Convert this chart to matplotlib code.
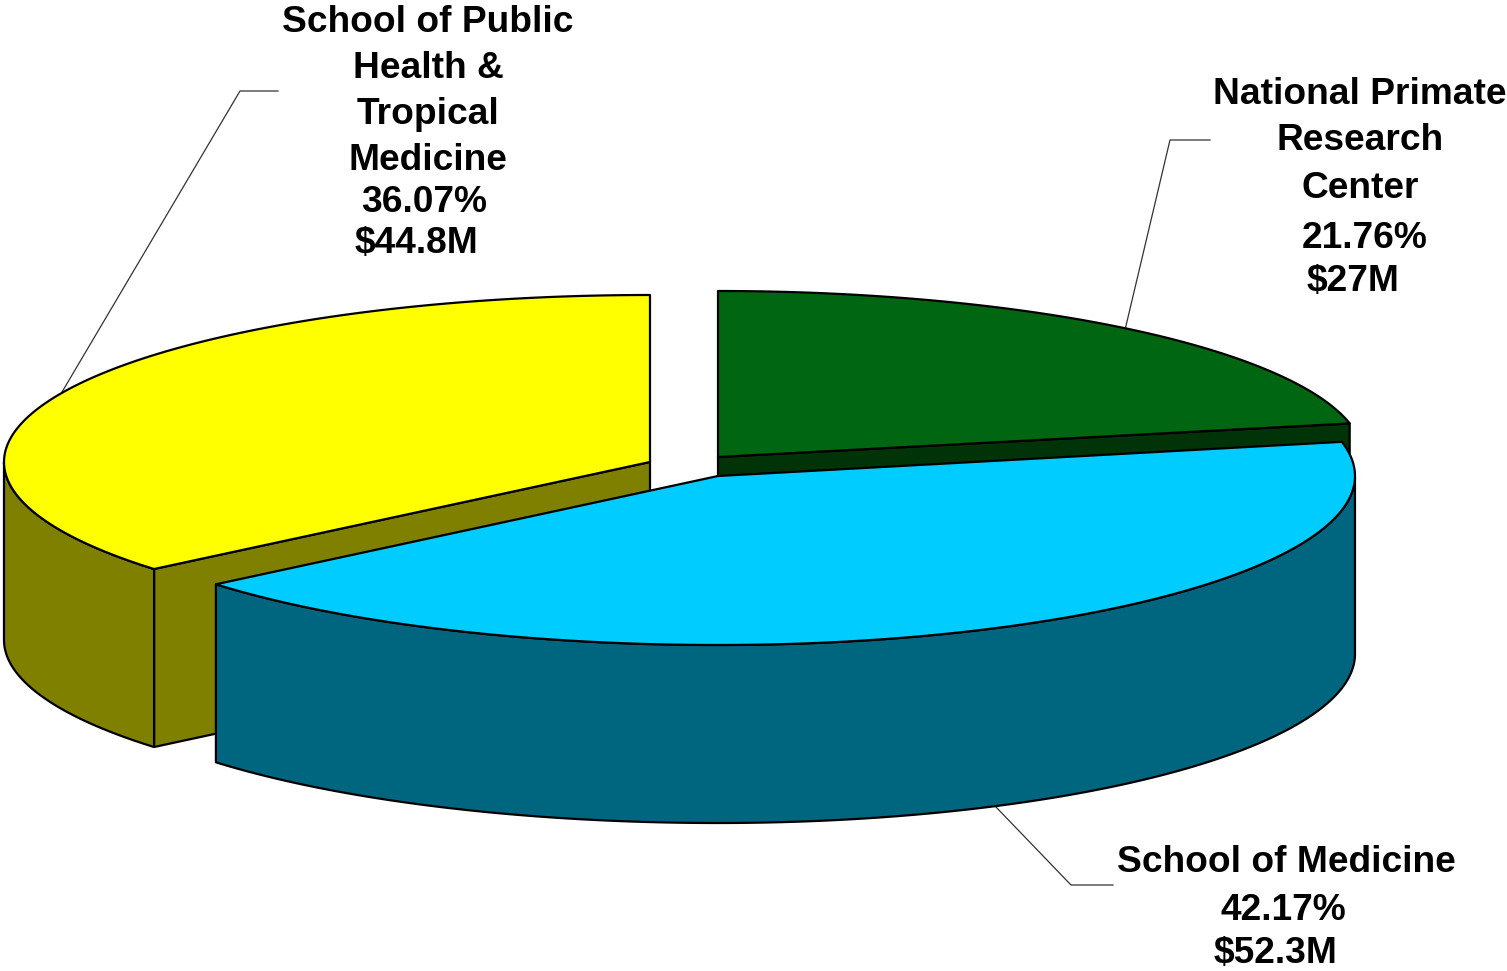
import numpy as np
import matplotlib
matplotlib.use('Agg')
import matplotlib.pyplot as plt
from matplotlib.patches import Polygon

# slices, clockwise from 12 o'clock
names = ['National Primate\nResearch\nCenter', 'School of Medicine', 'School of Public\nHealth &\nTropical\nMedicine']
shares = [21.76, 42.17, 36.07]
money = ['$27M', '$52.3M', '$44.8M']

top_colors = ['#006611', '#00CCFF', '#FFFF00']
side_colors = ['#003308', '#006680', '#808000']

# pie centre of each slice in picture pixels (exploded)
centres = [(718, 457), (718, 476), (650, 462)]
rx = [645, 637, 646]
rx_left = [645, 654, 646]  # source ellipse is a bit lopsided
ry = [166, 169, 167]
depth = 178


def rim(i, a, b):
    t = np.radians(np.linspace(a, b, 200))
    cx, cy = centres[i]
    c = np.cos(t)
    return np.column_stack([cx + np.where(c < 0, rx_left[i], rx[i]) * c, cy - ry[i] * np.sin(t)])


fig = plt.figure(figsize=(15.07, 9.71), dpi=100)
ax = fig.add_axes([0, 0, 1, 1])
ax.set_xlim(0, 1507)
ax.set_ylim(971, 0)
ax.axis('off')

down = np.array([0, depth])
ends = 90 - np.cumsum([0] + shares) * 3.6
lw = 1.6

# leader lines sit under the pie
leaders = [([1125, 1170, 1210], [330, 140, 140]),
           ([995, 1071, 1113], [806, 885, 885]),
           ([62, 240, 278], [392, 91, 91])]
for lx, ly in leaders:
    ax.plot(lx, ly, color='#333333', lw=0.9, zorder=1)

# back to front: yellow, green, blue
for z, i in enumerate([2, 0, 1]):
    a, b = ends[i], ends[i + 1]
    apex = np.array([centres[i]], dtype=float)
    outer = rim(i, a, b)
    base = 2 + z * 3

    # cut face towards the viewer: green at its last edge, yellow at its first
    if i != 1:
        cut_end = outer[-1] if i == 0 else outer[0]
        cut = np.vstack([apex, [cut_end], [cut_end + down], apex + down])
        ax.add_patch(Polygon(cut, fc=side_colors[i], ec='black', lw=lw, joinstyle='round', zorder=base))

    # outer wall, only the part facing the viewer
    s = np.sin(np.radians(np.linspace(a, b, 200)))
    front = outer[s <= 0.0]
    if i != 0 and len(front):
        wall = np.vstack([front, (front + down)[::-1]])
        ax.add_patch(Polygon(wall, fc=side_colors[i], ec='black', lw=lw, joinstyle='round', zorder=base + 1))

    ax.add_patch(Polygon(np.vstack([apex, outer]), fc=top_colors[i], ec='black', lw=lw,
                         joinstyle='round', zorder=base + 2))

# labels, one line at a time as they sit off-centre in the source
font = dict(family='Liberation Sans', fontweight='bold', fontsize=26.7, color='black',
            ha='center', va='center', zorder=20)
name_x = [1360, 1286, 428]
name_y = [[95, 141, 188], [862], [22, 68, 115, 161]]
pct_pos = [(1365, 239), (1283, 910), (424, 202)]
money_pos = [(1353, 282), (1275, 954), (416, 243)]

for i in range(3):
    for line, y in zip(names[i].split('\n'), name_y[i]):
        ax.text(name_x[i], y, line, **font)
    ax.text(*pct_pos[i], '%.2f%%' % shares[i], **font)
    ax.text(*money_pos[i], money[i], **font)

fig.savefig('out.png', dpi=100, facecolor='white')
